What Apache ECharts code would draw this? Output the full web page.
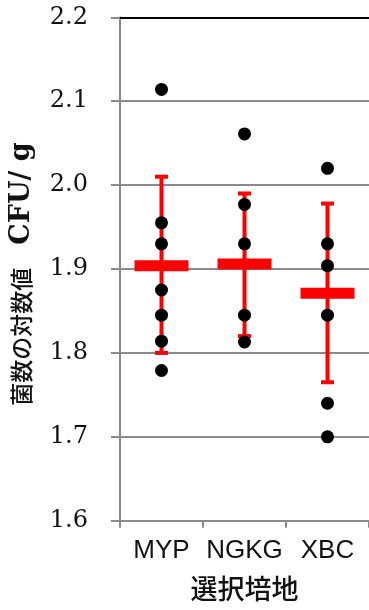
<!DOCTYPE html>
<html><head><meta charset="utf-8">
<script src="https://cdn.jsdelivr.net/npm/echarts@6/dist/echarts.min.js"></script>
<style>html,body{margin:0;padding:0;background:#fff}#c{width:369px;height:610px}</style>
</head><body><div id="c"></div>
<script>
var categories = ['MYP', 'NGKG', 'XBC'];
var yTicks = [1.6, 1.7, 1.8, 1.9, 2.0, 2.1, 2.2];
var pointsMYP = [2.114, 1.955, 1.930, 1.875, 1.845, 1.814, 1.779];
var pointsNGKG = [2.061, 1.977, 1.930, 1.845, 1.813];
var pointsXBC = [2.020, 1.930, 1.904, 1.845, 1.740, 1.700];
var means = [1.904, 1.906, 1.871];
var errLow = [1.800, 1.820, 1.765];
var errHigh = [2.010, 1.990, 1.978];

var pts = [];
[pointsMYP, pointsNGKG, pointsXBC].forEach(function (arr, i) {
  arr.forEach(function (v) { pts.push([i, v]); });
});
var errData = categories.map(function (c, i) { return [i, errLow[i], errHigh[i]]; });
var meanData = categories.map(function (c, i) { return [i, means[i]]; });

var chart = echarts.init(document.getElementById('c'));
chart.setOption({
  animation: false,
  grid: { left: 119.5, top: 17.3, width: 253.5, bottom: 89.3, containLabel: false },
  xAxis: [{
    type: 'category', data: categories, boundaryGap: true,
    axisLine: { lineStyle: { color: '#8a8a8a', width: 2 } },
    axisTick: { show: true, length: 7, lineStyle: { color: '#8a8a8a', width: 2 } },
    axisLabel: { color: '#111', fontFamily: 'Liberation Sans', fontSize: 26, margin: 17, interval: 0, hideOverlap: false },
    name: '選択培地', nameLocation: 'middle', nameGap: 55,
    nameTextStyle: { color: '#111', fontFamily: 'Noto Sans CJK JP', fontWeight: 500, fontSize: 27 }
  }, {
    type: 'category', data: categories, position: 'top',
    axisLine: { lineStyle: { color: '#000', width: 2 } },
    axisTick: { show: false }, axisLabel: { show: false }
  }],
  yAxis: {
    type: 'value', min: yTicks[0], max: yTicks[yTicks.length - 1], interval: 0.1,
    axisLine: { show: true, lineStyle: { color: '#8a8a8a', width: 2 } },
    axisTick: { show: true, length: 9, lineStyle: { color: '#8a8a8a', width: 2 } },
    splitLine: { lineStyle: { color: '#8a8a8a', width: 2 } },
    axisLabel: {
      color: '#111', fontFamily: 'DejaVu Serif', fontSize: 24, margin: 32,
      formatter: function (v) { return v.toFixed(1); }
    },
    name: '{j|菌数の対数値　}{e|CFU/ g}', nameLocation: 'middle', nameGap: 85,
    nameTextStyle: {
      padding: [0, 10, 0, 0],
      rich: {
        j: { fontFamily: 'Noto Sans CJK JP', fontWeight: 500, fontSize: 23, color: '#111' },
        e: { fontFamily: 'DejaVu Serif', fontWeight: 'bold', fontSize: 27, color: '#111' }
      }
    }
  },
  series: [{
    type: 'custom',
    data: errData,
    z: 2,
    renderItem: function (params, api) {
      var x = api.value(0);
      var lo = api.coord([x, api.value(1)]);
      var hi = api.coord([x, api.value(2)]);
      var hw = 6.5;
      var st = { stroke: '#ff0000', lineWidth: 4, fill: null };
      return {
        type: 'group', children: [
          { type: 'line', shape: { x1: lo[0], y1: lo[1], x2: hi[0], y2: hi[1] }, style: st },
          { type: 'line', shape: { x1: lo[0] - hw, y1: lo[1], x2: lo[0] + hw, y2: lo[1] }, style: st },
          { type: 'line', shape: { x1: hi[0] - hw, y1: hi[1], x2: hi[0] + hw, y2: hi[1] }, style: st }
        ]
      };
    }
  }, {
    type: 'scatter', data: meanData, symbol: 'rect', symbolSize: [54, 11], z: 3,
    itemStyle: { color: '#ff0000', opacity: 1 }
  }, {
    type: 'scatter', data: pts, symbol: 'circle', symbolSize: 13, z: 4,
    itemStyle: { color: '#000', opacity: 1 }
  }]
});
</script></body></html>
